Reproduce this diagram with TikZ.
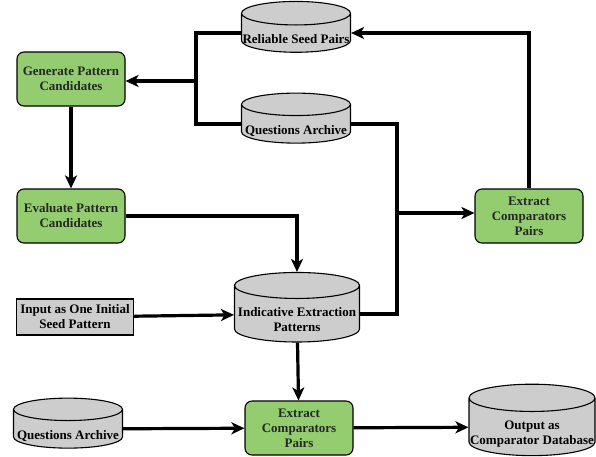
\documentclass[tikz,border=0pt]{standalone}
\usepackage{fontspec}
\setmainfont{Liberation Serif}
\usetikzlibrary{shapes, arrows.meta, positioning, calc}

\definecolor{boxgreen}{RGB}{147,205,112}
\definecolor{dbgray}{RGB}{205,205,205}

% text sits low in the cylinder body
\newcommand{\dbtext}[1]{\raisebox{-7pt}[\height][\depth]{\begin{tabular}{@{}c@{}}#1\end{tabular}}}

\begin{document}
\begin{tikzpicture}[x=1pt, y=-1pt, font=\bfseries\fontsize{13}{15}\selectfont,
	proc/.style={rectangle, rounded corners=7pt, draw, line width=1.1pt, fill=boxgreen, minimum width=108pt, minimum height=54pt, align=center, inner sep=1pt, text=black!85},
	inbox/.style={rectangle, draw, line width=1.1pt, fill=dbgray, minimum width=117pt, minimum height=36pt, align=center, inner sep=1pt},
	db/.style={cylinder, shape border rotate=90, aspect=0.22, draw, line width=1.1pt, fill=dbgray, minimum width=109pt, minimum height=50pt, inner sep=0pt},
	flow/.style={line width=3.2pt, -{Stealth[length=13pt, width=12pt, inset=3.5pt]}},
	link/.style={line width=3.2pt}]
	\useasboundingbox (0,0) rectangle (596,456);
	\node[proc] (gen) at (71,79) {Generate Pattern\\Candidates};
	\node[proc] (eval) at (71,216) {Evaluate Pattern\\Candidates};
	\node[inbox] (seed) at (75,317) {Input as One Initial\\Seed Pattern};
	\node[db] (qa2) at (68,429) {\dbtext{Questions Archive}};
	\node[db] (rsp) at (296,33) {\dbtext{Reliable Seed Pairs}};
	\node[db] (qa1) at (296,124) {\dbtext{Questions Archive}};
	\node[db, minimum width=125pt, minimum height=55pt] (iep) at (297,314) {\dbtext{Indicative Extraction\\Patterns}};
	\node[proc] (ecp1) at (529,216) {Extract\\Comparators\\Pairs};
	\node[proc] (ecp2) at (299,428) {Extract\\Comparators\\Pairs};
	\node[db, minimum width=126pt, minimum height=55pt] (out) at (532,427) {\dbtext{Output as\\Comparator Database}};
	\coordinate (split) at (196,81);
	\coordinate (qsplit) at (397,213);
	% feedback loop
	\draw[link] (rsp.west) -| (split) |- (qa1.west);
	\draw[flow] (split) -- (split -| gen.east);
	\draw[flow] (gen) -- (eval);
	\draw[flow] (eval.east) -| (iep.north);
	\draw[link] (qa1.east) -| (qsplit) |- (iep.east);
	\draw[flow] (qsplit) -- (qsplit -| ecp1.west);
	\draw[flow] (ecp1.north) |- (rsp.east);
	% main line
	\foreach \from/\to in {seed/iep,iep/ecp2,qa2/ecp2,ecp2/out}
		\draw[flow] (\from) -- (\to);
\end{tikzpicture}
\end{document}
